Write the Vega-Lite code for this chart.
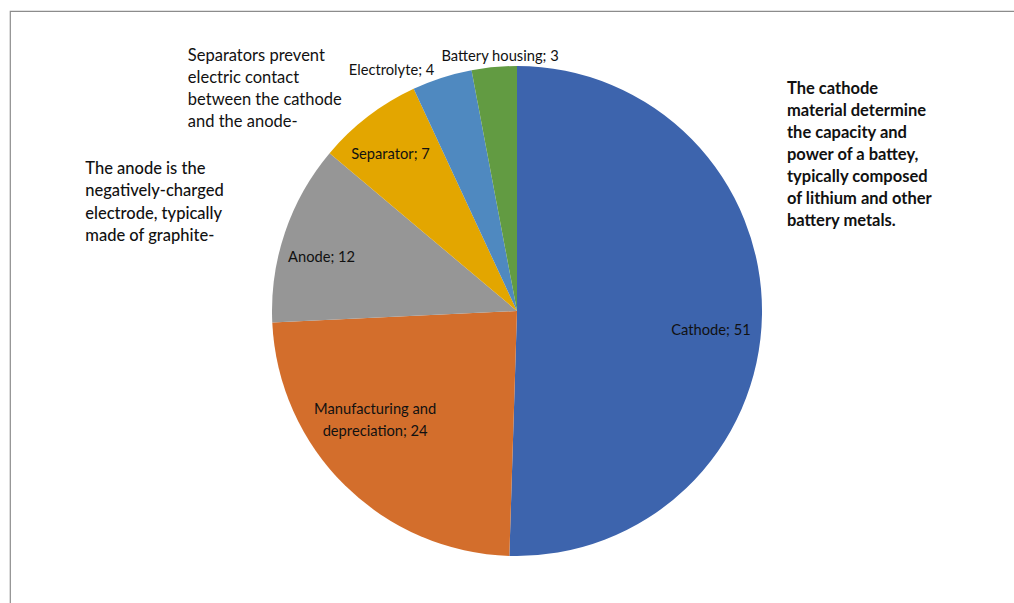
{
  "$schema": "https://vega.github.io/schema/vega-lite/v6.json",
  "autosize": "none",
  "width": 1014,
  "height": 600,
  "padding": {"left": 10, "top": 11, "right": 0, "bottom": 0},
  "background": "white",
  "view": {"stroke": "#8c8c8c", "strokeWidth": 1.2},
  "config": {"text": {"font": "Lato", "fill": "#111111"}},
  "data": {
    "values": [
      {"category": "Cathode", "value": 51, "label": "Cathode; 51", "note": "The cathode\nmaterial determine\nthe capacity and\npower of a battey,\ntypically composed\nof lithium and other\nbattery metals."},
      {"category": "Manufacturing and depreciation", "value": 24, "label": "Manufacturing and\ndepreciation; 24", "note": ""},
      {"category": "Anode", "value": 12, "label": "Anode; 12", "note": "The anode is the\nnegatively-charged\nelectrode, typically\nmade of graphite-"},
      {"category": "Separator", "value": 7, "label": "Separator; 7", "note": "Separators prevent\nelectric contact\nbetween the cathode\nand the anode-"},
      {"category": "Electrolyte", "value": 4, "label": "Electrolyte; 4", "note": ""},
      {"category": "Battery housing", "value": 3, "label": "Battery housing; 3", "note": ""}
    ]
  },
  "encoding": {
    "theta": {"field": "value", "type": "quantitative", "stack": true},
    "order": {"field": "value", "type": "quantitative", "sort": "descending"}
  },
  "layer": [
    {
      "mark": {"type": "arc", "outerRadius": 245},
      "encoding": {
        "color": {
          "field": "category",
          "type": "nominal",
          "scale": {
            "domain": ["Cathode", "Manufacturing and depreciation", "Anode", "Separator", "Electrolyte", "Battery housing"],
            "range": ["#3d64ad", "#d36e2c", "#969696", "#e3a600", "#4f89c0", "#629b42"]
          },
          "legend": null
        }
      }
    },
    {
      "mark": {"type": "text", "radius": 200, "dx": -6, "dy": 17, "fontSize": 14.7, "align": "center", "baseline": "middle"},
      "encoding": {
        "text": {"condition": {"test": "datum.category === 'Cathode'", "field": "label"}, "value": ""}
      }
    },
    {
      "mark": {"type": "text", "radius": 200, "dx": -6, "dy": 11, "fontSize": 14.7, "align": "center", "baseline": "middle"},
      "encoding": {
        "text": {"condition": {"test": "datum.category === 'Anode'", "field": "label"}, "value": ""}
      }
    },
    {
      "mark": {"type": "text", "radius": 200, "dx": -5, "dy": 3, "fontSize": 14.7, "align": "center", "baseline": "middle"},
      "encoding": {
        "text": {"condition": {"test": "datum.category === 'Separator'", "field": "label"}, "value": ""}
      }
    },
    {
      "mark": {"type": "text", "radius": 178, "dx": -17, "dy": -28, "fontSize": 14.7, "align": "center", "baseline": "middle", "lineBreak": "\n", "lineHeight": 22},
      "encoding": {
        "text": {"condition": {"test": "datum.category === 'Manufacturing and depreciation'", "field": "label"}, "value": ""}
      }
    },
    {
      "mark": {"type": "text", "radius": 254, "dx": -5, "dy": 2, "fontSize": 14.7, "align": "right", "baseline": "middle"},
      "encoding": {
        "text": {"condition": {"test": "datum.category === 'Electrolyte'", "field": "label"}, "value": ""}
      }
    },
    {
      "mark": {"type": "text", "radius": 257, "dx": 7, "dy": 2, "fontSize": 14.7, "align": "center", "baseline": "middle"},
      "encoding": {
        "text": {"condition": {"test": "datum.category === 'Battery housing'", "field": "label"}, "value": ""}
      }
    },
    {
      "mark": {"type": "text", "radius": 270, "dy": -226, "fontSize": 16.5, "fontWeight": "bold", "align": "left", "baseline": "middle", "lineBreak": "\n", "lineHeight": 22},
      "encoding": {
        "text": {"condition": {"test": "datum.category === 'Cathode'", "field": "note"}, "value": ""}
      }
    },
    {
      "mark": {"type": "text", "radius": 440, "dx": -15, "dy": -1, "fontSize": 16.5, "fontWeight": 500, "align": "left", "baseline": "middle", "lineBreak": "\n", "lineHeight": 22.5},
      "encoding": {
        "text": {"condition": {"test": "datum.category === 'Anode'", "field": "note"}, "value": ""}
      }
    },
    {
      "mark": {"type": "text", "radius": 280, "dx": -159, "dy": -33, "fontSize": 16.5, "align": "left", "baseline": "middle", "lineBreak": "\n", "lineHeight": 22},
      "encoding": {
        "text": {"condition": {"test": "datum.category === 'Separator'", "field": "note"}, "value": ""}
      }
    }
  ]
}
